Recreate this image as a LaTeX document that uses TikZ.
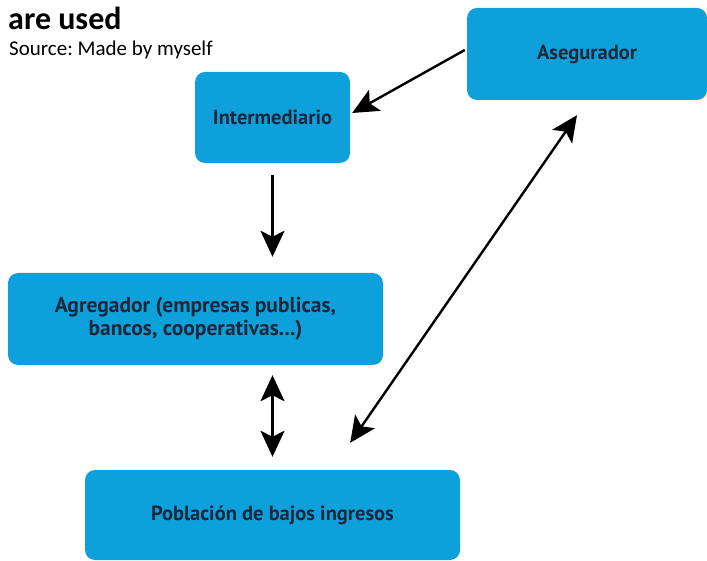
\documentclass[tikz,border=0pt]{standalone}
\usepackage{fontspec}
\setmainfont{Carlito}
\newfontfamily\boxfont{PT Sans}
\usetikzlibrary{arrows.meta}
\definecolor{boxblue}{RGB}{14,160,218}
\definecolor{boxtext}{RGB}{28,40,58}
\frenchspacing
\begin{document}
\begin{tikzpicture}[x=1pt, y=-1pt,
  every node/.style = {inner sep=0pt},
  actor/.style = {shape=rectangle, rounded corners=10pt,
    fill=boxblue, align=center, text=boxtext,
    font=\boxfont\bfseries\fontsize{20.5}{22}\selectfont},
  link/.style = {line width=2.4pt, -{Stealth[length=26pt,width=24pt,inset=6pt]}},
  twoway/.style = {line width=2.4pt,
    {Stealth[length=26pt,width=24pt,inset=6pt]}-{Stealth[length=26pt,width=24pt,inset=6pt]}}]
\useasboundingbox (0,0) rectangle (707,561);
\node[anchor=base west, font=\bfseries\fontsize{32}{36}\selectfont] (title) at (8,30) {are used};
\node[anchor=base west, font=\fontsize{21}{24}\selectfont] (source) at (9,56) {Source: Made by myself};
\node[actor, minimum width=240pt, minimum height=92pt] (aseg) at (587,54) {Asegurador};
\node[actor, minimum width=155pt, minimum height=91pt] (inter) at (272.5,117.5) {Intermediario};
\node[actor, minimum width=375pt, minimum height=92pt,
  font=\boxfont\bfseries\fontsize{21.5}{23}\selectfont] (agreg) at (195.5,319)
  {Agregador (empresas publicas,\\bancos, cooperativas...)};
\node[actor, minimum width=375pt, minimum height=90pt] (pobl) at (272.5,515) {Población de bajos ingresos};
\draw[link] ([xshift=-2pt,yshift=4pt]aseg.west) -- ([xshift=2pt,yshift=4.5pt]inter.east);
\draw[link] ([yshift=-12pt]inter.south) -- ([yshift=16pt]inter.south |- agreg.north);
\draw[twoway] ([yshift=-10pt]pobl.north |- agreg.south) -- ([yshift=13pt]pobl.north);
\draw[twoway] ([xshift=-10pt,yshift=-15pt]aseg.south) -- ([xshift=-110pt,yshift=27pt]pobl.north east);
\end{tikzpicture}
\end{document}
